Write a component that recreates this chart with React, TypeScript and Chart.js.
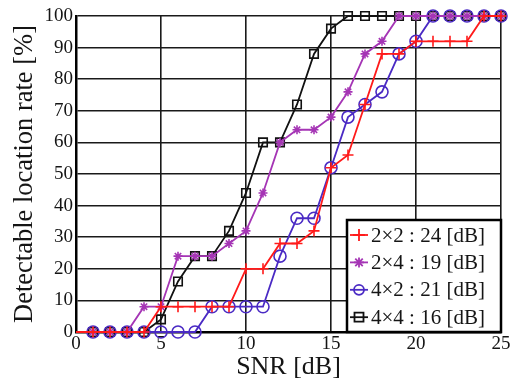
import { useEffect, useRef } from 'react';
import { Chart, registerables } from 'chart.js';

Chart.register(...registerables);

// ---- data ----
const SNR_DB = [0, 1, 2, 3, 4, 5, 6, 7, 8, 9, 10, 11, 12, 13, 14, 15, 16, 17, 18, 19, 20, 21, 22, 23, 24, 25];
const RATE_2X2 = [0, 0, 0, 0, 0, 8, 8, 8, 8, 8, 20, 20, 28, 28, 32, 52, 56, 72, 88, 88, 92, 92, 92, 92, 100, 100];
const RATE_2X4 = [0, 0, 0, 0, 8, 8, 24, 24, 24, 28, 32, 44, 60, 64, 64, 68, 76, 88, 92, 100, 100, 100, 100, 100, 100, 100];
const RATE_4X2 = [0, 0, 0, 0, 0, 0, 0, 0, 8, 8, 8, 8, 24, 36, 36, 52, 68, 72, 76, 88, 92, 100, 100, 100, 100, 100];
const RATE_4X4 = [0, 0, 0, 0, 0, 4, 16, 24, 24, 32, 44, 60, 60, 72, 88, 96, 100, 100, 100, 100, 100, 100, 100, 100, 100, 100];
const SERIES_LABELS = ['2×2 : 24 [dB]', '2×4 : 19 [dB]', '4×2 : 21 [dB]', '4×4 : 16 [dB]'];
const X_TITLE = 'SNR [dB]';
const Y_TITLE = 'Detectable location rate [%]';

const COLORS = ['#ff1a1a', '#a535b5', '#4a2ac4', '#111111'];
const MARKERS = ['cross', 'star', 'circle', 'rect'];
const MARKER_SIZES = [5.5, 4.5, 6, 6];
const SERIES = [RATE_2X2, RATE_2X4, RATE_4X2, RATE_4X4];
const SERIF = '"Liberation Serif", "Times New Roman", serif';

function drawMarker(ctx: CanvasRenderingContext2D, kind: string, x: number, y: number, r: number) {
  ctx.beginPath();
  if (kind === 'cross' || kind === 'star') {
    ctx.moveTo(x - r, y); ctx.lineTo(x + r, y);
    ctx.moveTo(x, y - r); ctx.lineTo(x, y + r);
    if (kind === 'star') {
      const d = r * 0.75;
      ctx.moveTo(x - d, y - d); ctx.lineTo(x + d, y + d);
      ctx.moveTo(x - d, y + d); ctx.lineTo(x + d, y - d);
    }
    ctx.stroke();
  } else if (kind === 'circle') {
    ctx.arc(x, y, r, 0, Math.PI * 2);
    ctx.stroke();
  } else {
    ctx.rect(x - r * 0.75, y - r * 0.75, r * 1.5, r * 1.5);
    ctx.stroke();
  }
}

const legendPlugin = {
  id: 'boxLegend',
  afterDraw(chart: any) {
    const { ctx, chartArea } = chart;
    const w = 154;
    const h = 112;
    const x0 = chartArea.right - w;
    const y0 = chartArea.bottom - h;
    ctx.save();
    ctx.fillStyle = '#ffffff';
    ctx.fillRect(x0, y0, w, h);
    ctx.lineWidth = 2.5;
    ctx.strokeStyle = '#000000';
    ctx.strokeRect(x0, y0, w, h);
    ctx.font = `21px ${SERIF}`;
    ctx.textBaseline = 'middle';
    ctx.textAlign = 'left';
    SERIES_LABELS.forEach((label, i) => {
      const cy = y0 + 15 + i * 27.4;
      ctx.strokeStyle = COLORS[i];
      ctx.lineWidth = 1.8;
      ctx.beginPath();
      ctx.moveTo(x0 + 3, cy);
      ctx.lineTo(x0 + 21, cy);
      ctx.stroke();
      drawMarker(ctx, MARKERS[i], x0 + 12, cy, i === 2 ? 5 : i === 1 ? 5 : 6);
      ctx.fillStyle = '#151515';
      ctx.fillText(label, x0 + 24, cy + 1);
    });
    ctx.restore();
  },
};

export default function App() {
  const canvasRef = useRef<HTMLCanvasElement | null>(null);

  useEffect(() => {
    document.body.style.margin = '0';
    const canvas = canvasRef.current;
    if (!canvas) return;
    const datasets = SERIES.map((values, i) => ({
      label: SERIES_LABELS[i],
      data: SNR_DB.map((x, j) => ({ x, y: values[j] })),
      borderColor: COLORS[i],
      backgroundColor: 'rgba(0,0,0,0)',
      borderWidth: 1.8,
      pointStyle: MARKERS[i],
      pointRadius: (c: any) => (c.dataIndex === 0 ? 0 : MARKER_SIZES[i]),
      pointBorderWidth: 1.6,
      pointBorderColor: COLORS[i],
      pointBackgroundColor: 'rgba(0,0,0,0)',
      tension: 0,
      clip: false as any,
    }));
    const chart = new Chart(canvas, {
      type: 'line',
      data: { datasets },
      plugins: [legendPlugin],
      options: {
        animation: false,
        responsive: false,
        maintainAspectRatio: false,
        layout: { padding: { top: 16, right: 11, left: 0, bottom: 0 } },
        plugins: { legend: { display: false }, tooltip: { enabled: false } },
        scales: {
          x: {
            type: 'linear',
            min: 0,
            max: 25,
            ticks: { stepSize: 5, color: '#151515', font: { family: SERIF, size: 19 }, padding: 1, maxRotation: 0 },
            grid: { color: '#1a1a1a', lineWidth: 1.6, drawTicks: false },
            border: { display: true, color: '#000', width: 2.5 },
            title: { display: true, text: X_TITLE, color: '#151515', font: { family: SERIF, size: 26, lineHeight: 1.0 }, padding: 0 },
            afterFit: (s: any) => { s.height = 48; },
          },
          y: {
            min: 0,
            max: 100,
            ticks: { stepSize: 10, color: '#151515', font: { family: SERIF, size: 19 }, padding: 3 },
            grid: { color: '#1a1a1a', lineWidth: 1.6, drawTicks: false },
            border: { display: true, color: '#000', width: 2.5 },
            title: { display: true, text: Y_TITLE, color: '#151515', font: { family: SERIF, size: 26.5, lineHeight: 1.0 }, padding: { top: 12, bottom: 0 } },
            afterFit: (s: any) => { s.width = 76; },
          },
        },
      },
    });
    return () => chart.destroy();
  }, []);

  return (
    <div style={{ position: 'absolute', left: 0, top: 0, width: 512, height: 380, background: '#fff' }}>
      <canvas ref={canvasRef} width={512} height={380} />
    </div>
  );
}
